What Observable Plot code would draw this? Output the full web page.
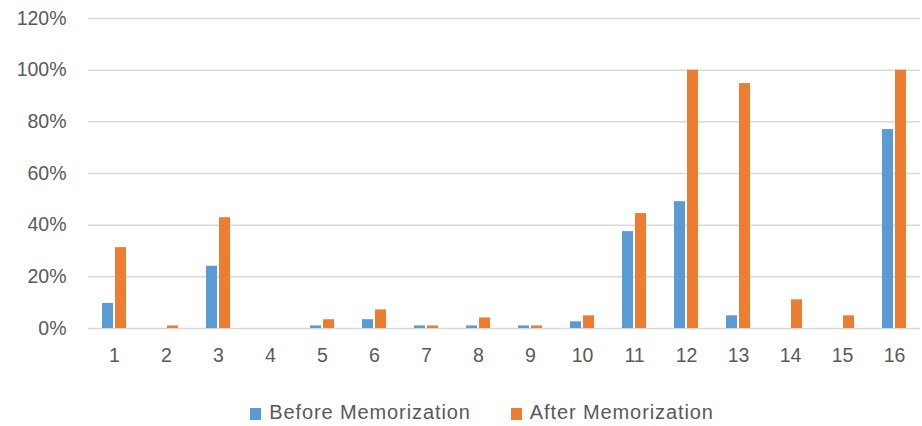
<!DOCTYPE html>
<html>
<head>
<meta charset="utf-8">
<script src="https://cdn.jsdelivr.net/npm/d3@7"></script>
<script src="https://cdn.jsdelivr.net/npm/@observablehq/plot@0.6"></script>
<style>
  html, body { margin: 0; padding: 0; background: #fff; }
  #chart { width: 922px; }
  .legend { display: flex; justify-content: center; gap: 40px; height: 36px; align-items: center;
            margin-top: 4px; padding-left: 42px;
            font: 20px "Liberation Sans", Arial, sans-serif; letter-spacing: 0.9px; color: #595959; }
  .legend span.sw { display: inline-block; width: 11px; height: 12px; margin-right: 8px; vertical-align: -1px; }
</style>
</head>
<body>
<div id="chart"></div>
<script>
// Share of items recalled per question, before and after memorization (%)
const categories = ["1","2","3","4","5","6","7","8","9","10","11","12","13","14","15","16"];
const series = ["Before Memorization", "After Memorization"];
const before = [9.7, 0, 24.1, 0, 1, 3.4, 1, 1, 1, 2.6, 37.5, 49.1, 4.9, 0, 0, 77];
const after = [31.3, 1, 42.9, 0, 3.4, 7.2, 1, 4.1, 1, 4.9, 44.5, 100, 94.8, 11.1, 4.9, 100];
const yTicks = [0, 20, 40, 60, 80, 100, 120];
const colors = ["#5B9BD5", "#ED7D31"];

const rows = categories.flatMap((c, i) => [
  {category: c, series: series[0], value: before[i]},
  {category: c, series: series[1], value: after[i]}
]);

const chart = Plot.plot({
  width: 922,
  height: 390,
  marginLeft: 86,
  marginRight: 0,
  marginTop: 18,
  marginBottom: 62,
  style: {fontFamily: "'Liberation Sans', Arial, sans-serif", fontSize: "19.5px", color: "#595959"},
  fx: {domain: categories, padding: 0, label: null, tickSize: 0, tickPadding: 20},
  x: {axis: null, domain: series, paddingInner: 0.14, paddingOuter: 0.94},
  y: {domain: [0, 120], ticks: yTicks, tickSize: 0, tickPadding: 22, tickFormat: d => d + "%", label: null},
  color: {domain: series, range: colors},
  marks: [
    Plot.ruleY(yTicks, {stroke: "#D9D9D9", strokeWidth: 1.5}),
    Plot.barY(rows, {fx: "category", x: "series", y: "value", fill: "series"})
  ]
});
document.getElementById("chart").appendChild(chart);

const legend = document.createElement("div");
legend.className = "legend";
series.forEach((s, i) => {
  const item = document.createElement("div");
  item.innerHTML = `<span class="sw" style="background:${colors[i]}"></span>${s}`;
  legend.appendChild(item);
});
document.getElementById("chart").appendChild(legend);
</script>
</body>
</html>
